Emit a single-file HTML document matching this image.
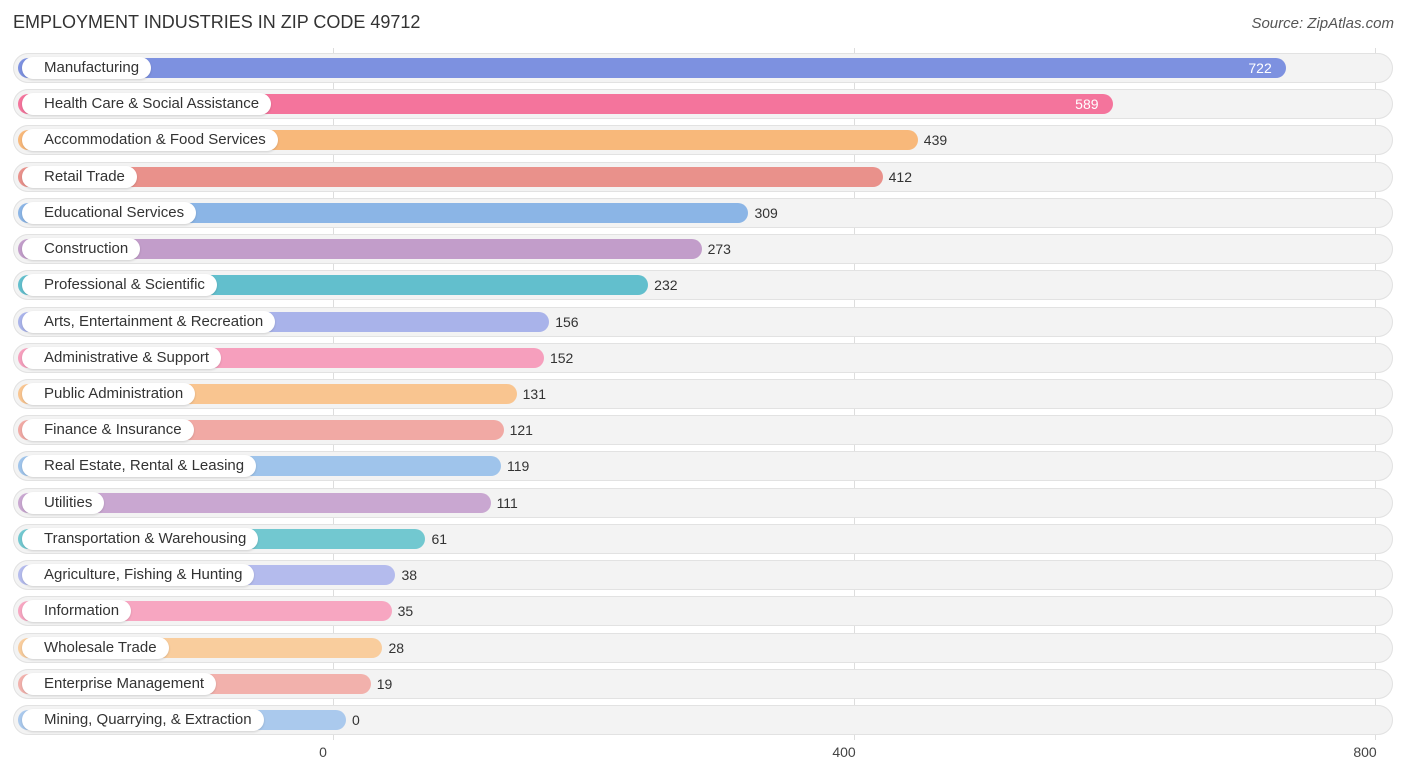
<!DOCTYPE html>
<html><head><meta charset="utf-8"><style>
body{margin:0;background:#fff;font-family:"Liberation Sans",sans-serif;}
#wrap{position:relative;width:1406px;height:776px;overflow:hidden;}
.title{position:absolute;left:13px;top:12px;font-size:18px;color:#333;}
.src{position:absolute;right:12px;top:15px;font-size:15px;color:#555;font-style:italic;}
.grid{position:absolute;top:48px;height:692px;width:1px;background:#ddd;}
.tick{position:absolute;top:744px;font-size:14px;color:#444;transform:translateX(-50%);}
.row{position:absolute;left:13px;width:1380px;height:30px;border-radius:15px;background:#f3f3f3;box-shadow:inset 0 0 0 1px #e2e2e2;}
.bar{position:absolute;left:18px;height:20px;border-radius:10px;}
.lab{position:absolute;left:22px;height:22px;line-height:22px;padding:0 12px 0 22px;background:#fff;border-radius:11px;font-size:15px;color:#333;white-space:nowrap;box-shadow:0 1px 2px rgba(0,0,0,.15);}
.val{position:absolute;font-size:14px;line-height:20px;}
</style></head><body>
<div id="wrap">
<div class="title">EMPLOYMENT INDUSTRIES IN ZIP CODE 49712</div>
<div class="src">Source: ZipAtlas.com</div>
</div>
<script>
const categories=["Manufacturing","Health Care & Social Assistance","Accommodation & Food Services","Retail Trade","Educational Services","Construction","Professional & Scientific","Arts, Entertainment & Recreation","Administrative & Support","Public Administration","Finance & Insurance","Real Estate, Rental & Leasing","Utilities","Transportation & Warehousing","Agriculture, Fishing & Hunting","Information","Wholesale Trade","Enterprise Management","Mining, Quarrying, & Extraction"];
const values=[722,589,439,412,309,273,232,156,152,131,121,119,111,61,38,35,28,19,0];
const colors=["#7d91e0","#f4749c","#f8b87a","#e9918b","#8bb5e6","#c29dca","#62bfcd","#a9b3ea","#f69fbd","#f9c590","#f1a9a4","#9fc4eb","#c9a7d1","#72c8d0","#b4bbed","#f7a6c1","#f9cd9d","#f2b1ac","#aac9ed"];
const ticks=[0,400,800];
const wrap=document.getElementById('wrap');
const x=v=>333+v*1.3025;
const rowY=i=>68+i*36.22;
ticks.forEach(t=>{
  const g=document.createElement('div');g.className='grid';g.style.left=x(t)+'px';
  
  
  wrap.appendChild(g);
  const l=document.createElement('div');l.className='tick';l.style.left=(x(t)-10)+'px';l.textContent=t;
  
  
  wrap.appendChild(l);
});
categories.forEach((c,i)=>{
  const y=rowY(i);
  const r=document.createElement('div');r.className='row';r.style.top=(y-15)+'px';
  
  
  wrap.appendChild(r);
  const end=x(values[i])+13;
  const b=document.createElement('div');b.className='bar';b.style.top=(y-10)+'px';b.style.width=(end-18)+'px';b.style.background=colors[i];
  
  
  wrap.appendChild(b);
  const l=document.createElement('div');l.className='lab';l.style.top=(y-11)+'px';l.textContent=c;
  
  
  wrap.appendChild(l);
  const v=document.createElement('div');v.className='val';v.style.top=(y-10)+'px';v.textContent=values[i];
  
  
  if(values[i]>500){v.style.left=(end-38)+'px';v.style.color='#fff';}
  else{v.style.left=(end+6)+'px';v.style.color='#333';}
  wrap.appendChild(v);
});
</script>
</body></html>
